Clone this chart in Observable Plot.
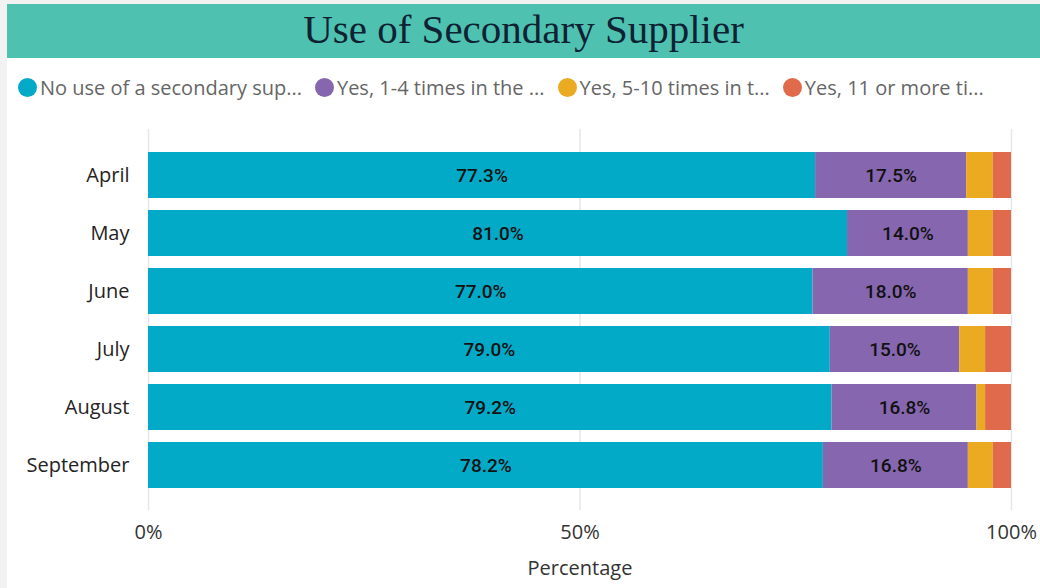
<!DOCTYPE html>
<html>
<head>
<meta charset="utf-8">
<script src="https://cdn.jsdelivr.net/npm/d3@7"></script>
<script src="https://cdn.jsdelivr.net/npm/@observablehq/plot@0.6"></script>
<style>
  html, body { margin: 0; padding: 0; }
  body { width: 1040px; height: 588px; overflow: hidden; background: #f2f2f2; position: relative; font-family: "Open Sans", sans-serif; }
  #card { position: absolute; left: 7px; top: 4px; width: 1033px; height: 584px; background: #fff; }
  #title { height: 54px; background: #4EC1B0; color: #0f2233; font-family: "Liberation Serif", "Times New Roman", serif; font-size: 41px; line-height: 50px; text-align: center; }
  #legend { position: absolute; top: 70px; left: 11px; display: flex; align-items: center; white-space: nowrap; }
  .item { display: flex; align-items: center; margin-right: 13px; }
  .dot { width: 19px; height: 19px; border-radius: 50%; margin-right: 3px; }
  .lab { color: #666; font-size: 20px; }
  #chart { position: absolute; left: 0; top: 105px; }
</style>
</head>
<body>
<div id="card">
  <div id="title">Use of Secondary Supplier</div>
  <div id="legend"></div>
  <div id="chart"></div>
</div>
<script>
const months = ["April", "May", "June", "July", "August", "September"];
const seriesNames = ["No use of a secondary sup...", "Yes, 1-4 times in the ...", "Yes, 5-10 times in t...", "Yes, 11 or more ti..."];
const noUse    = [77.3, 81.0, 77.0, 79.0, 79.2, 78.2];
const yes1to4  = [17.5, 14.0, 18.0, 15.0, 16.8, 16.8];
const yes5to10 = [3.1, 2.9, 2.9, 3.0, 1.0, 2.9];
const yes11    = [2.1, 2.1, 2.1, 3.0, 3.0, 2.1];
const colors = ["#02AAC8", "#8666AE", "#EAAB22", "#DF6B4C"];
const xTicks = [0, 50, 100];
const xTickLabels = ["0%", "50%", "100%"];

const seriesValues = [noUse, yes1to4, yes5to10, yes11];
const data = [];
months.forEach((m, i) => {
  seriesValues.forEach((vals, s) => {
    data.push({month: m, series: seriesNames[s], idx: s, value: vals[i]});
  });
});

// Legend
const legend = document.getElementById("legend");
seriesNames.forEach((n, i) => {
  const it = document.createElement("div");
  it.className = "item";
  it.innerHTML = `<span class="dot" style="background:${colors[i]}"></span><span class="lab">${n}</span>`;
  legend.appendChild(it);
});

const chart = Plot.plot({
  width: 1033,
  height: 479,
  marginLeft: 141,
  marginRight: 29,
  marginTop: 20,
  marginBottom: 78,
  style: {fontFamily: "'Open Sans', sans-serif", fontSize: "20px", color: "#252423", background: "transparent"},
  x: {domain: [0, 100]},
  y: {domain: months, paddingInner: 0.207, paddingOuter: 0.36},
  color: {domain: seriesNames, range: colors},
  marks: [
    Plot.ruleX(xTicks, {stroke: "#e6e6e6", strokeWidth: 1.5}),
    Plot.barX(data, Plot.stackX({x: "value", y: "month", fill: "series", order: "idx"})),
    Plot.text(data, Plot.stackX({
      x: "value", y: "month", z: "series", order: "idx",
      text: d => d.idx < 2 ? d.value.toFixed(1) + "%" : "",
      fill: "#111", fontSize: 19, fontWeight: 500, fontFamily: "Roboto, sans-serif"
    })),
    Plot.axisY({tickSize: 0, tickPadding: 19, label: null, fontSize: 20, fill: "#252423"}),
    Plot.axisX({ticks: xTicks, tickFormat: (d, i) => xTickLabels[xTicks.indexOf(d)], tickSize: 0, tickPadding: 14, fontSize: 20, fill: "#333",
      label: "Percentage", labelAnchor: "center", labelArrow: "none", labelOffset: 64})
  ]
});
document.getElementById("chart").appendChild(chart);
</script>
</body>
</html>
